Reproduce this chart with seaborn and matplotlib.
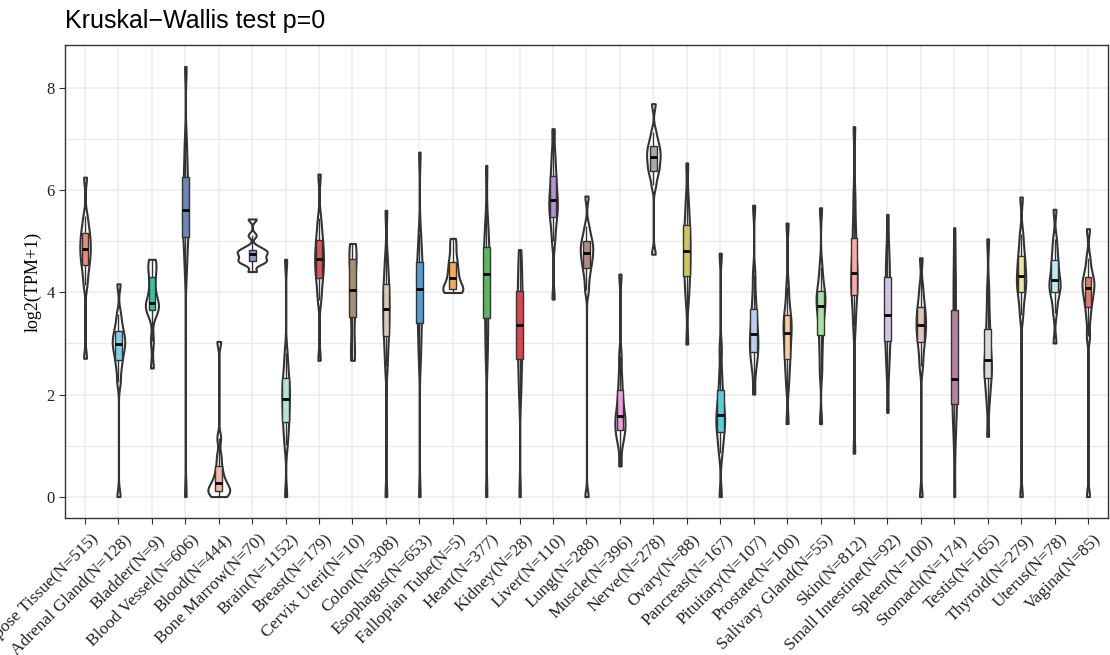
import matplotlib
matplotlib.use("Agg")  # no display
import matplotlib.pyplot as plt
from matplotlib.ticker import MultipleLocator
from matplotlib.transforms import ScaledTranslation
import numpy as np
import pandas as pd
import seaborn as sns

# tissue names + sample counts shown in the tick labels
tissues = [
    "Adipose Tissue", "Adrenal Gland", "Bladder", "Blood Vessel", "Blood",
    "Bone Marrow", "Brain", "Breast", "Cervix Uteri", "Colon", "Esophagus",
    "Fallopian Tube", "Heart", "Kidney", "Liver", "Lung", "Muscle", "Nerve",
    "Ovary", "Pancreas", "Pituitary", "Prostate", "Salivary Gland", "Skin",
    "Small Intestine", "Spleen", "Stomach", "Testis", "Thyroid", "Uterus", "Vagina",
]
n_samples = [515, 128, 9, 606, 444, 70, 1152, 179, 10, 308, 653, 5, 377, 28, 110,
             288, 396, 278, 88, 167, 107, 100, 55, 812, 92, 100, 174, 165, 279, 78, 85]

# log2(TPM+1): 13 evenly spaced quantiles per tissue
# (min, 8%, 17%, Q1, 33%, 42%, median, 58%, 67%, Q3, 83%, 92%, max)
adipose   = [2.71, 4.15, 4.38, 4.54, 4.66, 4.76, 4.86, 4.96, 5.06, 5.17, 5.30, 5.50, 6.26]
adrenal   = [0.00, 2.25, 2.52, 2.68, 2.82, 2.91, 2.99, 3.07, 3.15, 3.24, 3.38, 3.58, 4.17]
bladder   = [2.52, 3.05, 3.55, 3.66, 3.72, 3.76, 3.80, 3.95, 4.12, 4.30, 4.45, 4.58, 4.65]
vessel    = [0.00, 4.45, 4.85, 5.08, 5.28, 5.45, 5.61, 5.80, 6.02, 6.26, 6.55, 6.95, 8.43]
blood     = [0.00, 0.05, 0.08, 0.11, 0.14, 0.18, 0.26, 0.33, 0.44, 0.59, 0.80, 1.15, 3.04]
marrow    = [4.41, 4.55, 4.60, 4.62, 4.66, 4.70, 4.75, 4.78, 4.81, 4.84, 4.90, 5.12, 5.44]
brain     = [0.00, 1.02, 1.28, 1.46, 1.62, 1.77, 1.92, 2.05, 2.18, 2.32, 2.52, 2.82, 4.65]
breast    = [2.67, 3.85, 4.10, 4.28, 4.42, 4.54, 4.65, 4.77, 4.90, 5.03, 5.20, 5.45, 6.32]
cervix    = [2.67, 2.80, 3.10, 3.51, 3.75, 3.90, 4.04, 4.25, 4.48, 4.66, 4.78, 4.90, 4.96]
colon     = [0.00, 2.55, 2.90, 3.14, 3.33, 3.50, 3.67, 3.83, 4.00, 4.17, 4.38, 4.70, 5.61]
esophagus = [0.00, 2.70, 3.10, 3.40, 3.65, 3.87, 4.07, 4.25, 4.42, 4.59, 4.80, 5.15, 6.75]
fallopian = [4.00, 4.02, 4.04, 4.06, 4.12, 4.20, 4.28, 4.38, 4.48, 4.59, 4.72, 4.90, 5.06]
heart     = [0.00, 2.70, 3.15, 3.50, 3.85, 4.12, 4.36, 4.55, 4.73, 4.90, 5.10, 5.40, 6.49]
kidney    = [0.00, 2.00, 2.40, 2.70, 2.95, 3.17, 3.37, 3.58, 3.80, 4.02, 4.25, 4.50, 4.84]
liver     = [3.87, 5.00, 5.28, 5.47, 5.60, 5.71, 5.81, 5.95, 6.10, 6.28, 6.48, 6.75, 7.21]
lung      = [0.00, 4.05, 4.30, 4.47, 4.58, 4.68, 4.77, 4.85, 4.93, 5.01, 5.12, 5.30, 5.89]
muscle    = [0.60, 1.05, 1.20, 1.30, 1.40, 1.49, 1.58, 1.70, 1.87, 2.08, 2.35, 2.75, 4.36]
nerve     = [4.75, 6.10, 6.30, 6.39, 6.48, 6.57, 6.65, 6.72, 6.80, 6.88, 6.98, 7.15, 7.70]
ovary     = [2.99, 3.85, 4.12, 4.33, 4.50, 4.66, 4.82, 4.98, 5.15, 5.32, 5.55, 5.85, 6.54]
pancreas  = [0.00, 0.85, 1.08, 1.26, 1.38, 1.49, 1.59, 1.72, 1.88, 2.08, 2.40, 2.90, 4.77]
pituitary = [2.01, 2.50, 2.70, 2.83, 2.95, 3.06, 3.18, 3.33, 3.50, 3.67, 3.95, 4.35, 5.71]
prostate  = [1.43, 2.20, 2.50, 2.70, 2.88, 3.05, 3.20, 3.32, 3.43, 3.55, 3.75, 4.10, 5.36]
salivary  = [1.43, 2.45, 2.85, 3.16, 3.40, 3.58, 3.74, 3.83, 3.92, 4.02, 4.20, 4.50, 5.66]
skin      = [0.85, 3.35, 3.70, 3.95, 4.12, 4.25, 4.38, 4.58, 4.80, 5.06, 5.40, 5.90, 7.25]
small_int = [1.65, 2.45, 2.80, 3.04, 3.22, 3.38, 3.55, 3.78, 4.05, 4.31, 4.55, 4.85, 5.53]
spleen    = [0.00, 2.55, 2.82, 3.02, 3.15, 3.26, 3.37, 3.48, 3.59, 3.71, 3.88, 4.12, 4.68]
stomach   = [0.00, 1.20, 1.55, 1.82, 2.00, 2.15, 2.30, 2.65, 3.15, 3.65, 4.05, 4.50, 5.27]
testis    = [1.18, 1.85, 2.12, 2.32, 2.45, 2.56, 2.67, 2.85, 3.05, 3.29, 3.60, 4.05, 5.05]
thyroid   = [0.00, 3.55, 3.82, 4.00, 4.12, 4.22, 4.32, 4.45, 4.58, 4.71, 4.90, 5.15, 5.87]
uterus    = [3.01, 3.60, 3.85, 4.00, 4.09, 4.16, 4.24, 4.36, 4.50, 4.64, 4.82, 5.05, 5.63]
vagina    = [0.00, 3.15, 3.50, 3.72, 3.86, 3.97, 4.08, 4.15, 4.23, 4.31, 4.45, 4.68, 5.25]

samples = [adipose, adrenal, bladder, vessel, blood, marrow, brain, breast, cervix,
           colon, esophagus, fallopian, heart, kidney, liver, lung, muscle, nerve,
           ovary, pancreas, pituitary, prostate, salivary, skin, small_int, spleen,
           stomach, testis, thyroid, uterus, vagina]

box_colors = [
    "#F0887A", "#7DD0E3", "#3DBFA5", "#6B86B8", "#F6B7A5", "#8D9FCF", "#B5E3D6",
    "#E8525A", "#A68F77", "#D7C9B3", "#519DD0", "#FBA957", "#5CB85F", "#D9474E",
    "#B392D4", "#B38A80", "#EBA0DD", "#A9A9A9", "#CCC660", "#5ACFDB", "#BBCEF2",
    "#FDCB96", "#A6E3A3", "#F9AAAA", "#D3C3E3", "#DFC3BC", "#B5839E", "#D9D9D9",
    "#EDE6A0", "#BFE9F2", "#DE7B6C",
]

labels = [f"{t}(N={n})" for t, n in zip(tissues, n_samples)]
df = pd.DataFrame({
    "tissue": np.repeat(labels, [len(s) for s in samples]),
    "value": np.concatenate(samples),
})


def nrd0(kde):
    # R's default bw (silverman), returned as a factor of the sd for scipy
    d = kde.dataset.ravel()
    sd = d.std(ddof=1)
    iqr = np.subtract(*np.percentile(d, [75, 25]))
    h = 0.9 * min(sd, iqr / 1.34) * len(d) ** -0.2
    return h / sd


fig = plt.figure(figsize=(11.1, 6.55), dpi=100)
ax = fig.add_axes([65 / 1110, 1 - 518 / 655, 1043 / 1110, 473 / 655])

sns.violinplot(data=df, x="tissue", y="value", order=labels, ax=ax,
               color="white", linecolor="#333333", linewidth=1.5,
               inner=None, cut=0, width=0.9, density_norm="area",
               bw_method=nrd0, bw_adjust=0.6)
sns.boxplot(data=df, x="tissue", y="value", order=labels, hue="tissue",
            hue_order=labels, palette=box_colors, legend=False, ax=ax,
            width=0.2, saturation=1, showfliers=False, showcaps=False,
            linecolor="#333333", linewidth=1.0,
            medianprops={"color": "black", "linewidth": 2})

ax.set_xlim(-0.6, len(labels) - 0.4)
ax.set_ylim(-0.42, 8.85)
ax.yaxis.set_major_locator(MultipleLocator(2))
ax.yaxis.set_minor_locator(MultipleLocator(1))
ax.set_axisbelow(True)
ax.grid(which="major", color="#EBEBEB", linewidth=1.1)
ax.grid(which="minor", axis="y", color="#EBEBEB", linewidth=0.9)
for sp in ax.spines.values():
    sp.set_color("#333333")
    sp.set_linewidth(1.0)

ax.tick_params(axis="both", which="major", length=4, color="#333333",
               labelcolor="#222222")
ax.tick_params(axis="y", which="minor", length=0)
ax.set_xticks(range(len(labels)))
ax.set_xticklabels(labels, rotation=45, ha="right", va="top",
                   rotation_mode="anchor", fontsize=12.5, family="Liberation Serif")
# nudge rotated labels a bit right/down like the ggplot output
shift = ScaledTranslation(5 / 100, -3 / 100, fig.dpi_scale_trans)
for lab in ax.get_xticklabels():
    lab.set_transform(lab.get_transform() + shift)
for lab in ax.get_yticklabels():
    lab.set_fontsize(12)
    lab.set_family("Liberation Serif")
ax.set_xlabel("")
ax.set_ylabel("log2(TPM+1)", fontsize=13, family="Liberation Serif", labelpad=3)

fig.text(65 / 1110, 1 - 28 / 655, "Kruskal\u2212Wallis test p=0", fontsize=18,
         family="Liberation Sans", ha="left", va="baseline")

plt.savefig("out.png", dpi=100)
plt.close()
